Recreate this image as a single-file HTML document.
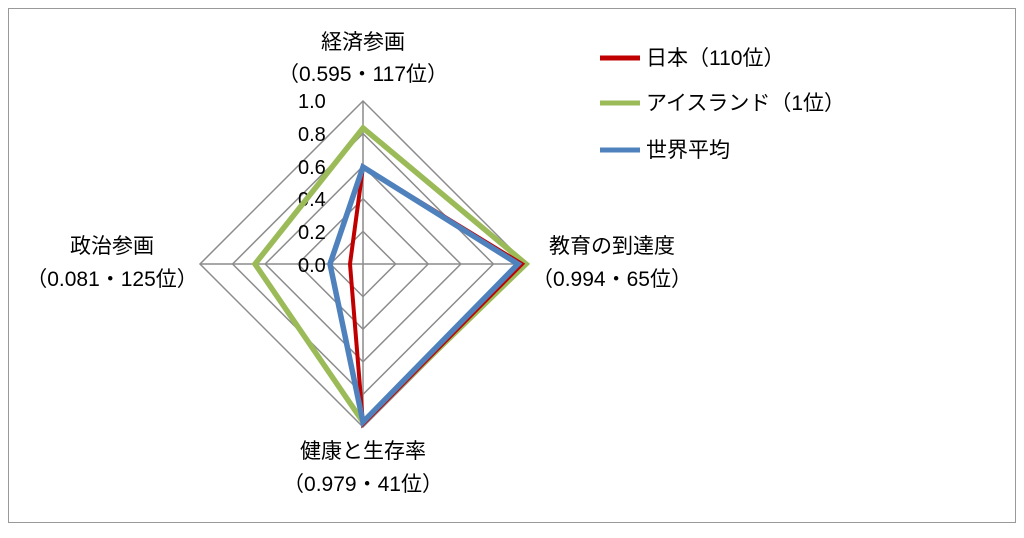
<!DOCTYPE html>
<html><head><meta charset="utf-8"><style>
body{margin:0;background:#fff;}
svg text{font-family:"Liberation Sans","Noto Sans CJK JP",sans-serif;fill:#000;}
</style></head><body>
<svg width="1024" height="533" viewBox="0 0 1024 533" xmlns="http://www.w3.org/2000/svg">
<rect x="8.5" y="8.5" width="1007" height="514" fill="#fff" stroke="#999" stroke-width="1"/>
<g fill="none" stroke="#8c8c8c" stroke-width="1.5">
<polygon points="363,101 526,264 363,427 200,264"/>
<polygon points="363,133.6 493.4,264 363,394.4 232.6,264"/>
<polygon points="363,166.2 460.8,264 363,361.8 265.2,264"/>
<polygon points="363,198.8 428.2,264 363,329.2 297.8,264"/>
<polygon points="363,231.4 395.6,264 363,296.6 330.4,264"/>
<line x1="363" y1="101" x2="363" y2="427"/>
<line x1="200" y1="264" x2="526" y2="264"/>
</g>
<g font-size="20">
<text x="298" y="108">1.0</text>
<text x="298" y="141">0.8</text>
<text x="298" y="174">0.6</text>
<text x="298" y="206">0.4</text>
<text x="298" y="239">0.2</text>
<text x="298" y="272">0.0</text>
</g>
<polygon points="363,128 526,264 363,422 255,264" fill="none" stroke="#9bbb59" stroke-width="5.5"/>
<polygon points="363,167 522,264 363,424 350,264" fill="none" stroke="#c00000" stroke-width="4"/>
<polygon points="363,167 518,264 363,422 330,264" fill="none" stroke="#4f81bd" stroke-width="5.5"/>
<g font-size="21" text-anchor="middle">
<text x="363" y="49">経済参画</text>
<text x="363" y="81">（0.595・117位）</text>
<text x="112" y="253">政治参画</text>
<text x="112" y="286">（0.081・125位）</text>
<text x="612" y="253">教育の到達度</text>
<text x="612" y="286">（0.994・65位）</text>
<text x="363" y="458">健康と生存率</text>
<text x="363" y="491">（0.979・41位）</text>
</g>
<g stroke-width="5">
<line x1="600" y1="58" x2="640" y2="58" stroke="#c00000"/>
<line x1="600" y1="103" x2="640" y2="103" stroke="#9bbb59"/>
<line x1="600" y1="150" x2="640" y2="150" stroke="#4f81bd"/>
</g>
<g font-size="21">
<text x="646" y="65">日本（110位）</text>
<text x="646" y="110">アイスランド（1位）</text>
<text x="646" y="157">世界平均</text>
</g>
</svg>
</body></html>
